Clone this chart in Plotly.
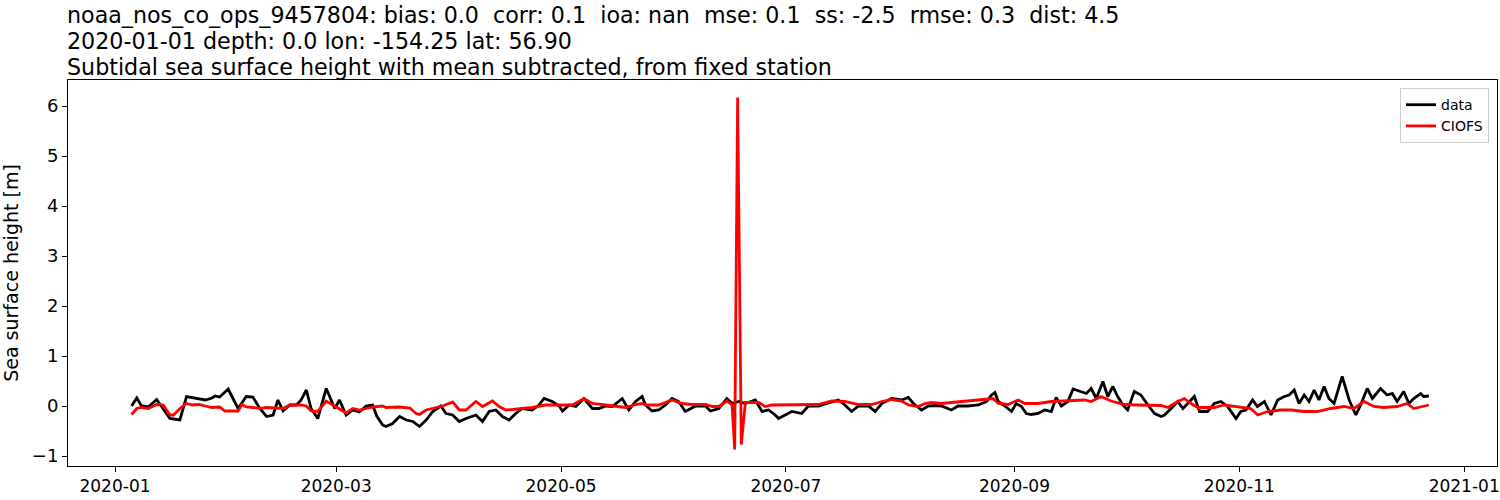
import pandas as pd
import plotly.graph_objects as go

# ---- data (days since 2020-01-01, sea surface height [m]) ----
obs_day = [4.5, 5.9, 7.2, 9.0, 11.3, 13.1, 14.9, 15.9, 17.6, 19.4, 22.1, 24.5, 26.3, 27.2, 28.4,
           30.7, 32.0, 33.4, 35.6, 37.4, 39.3, 41.1, 42.9, 44.2, 45.6, 47.4, 49.2, 50.5, 51.9,
           53.2, 55.0, 57.3, 59.6, 60.9, 62.7, 64.5, 66.3, 68.1, 69.9, 71.0, 72.6,
           73.5, 75.3, 77.2, 79.0, 80.8, 82.6, 84.4, 86.2, 88.4, 89.8, 91.6, 93.4, 95.2, 97.9,
           99.7, 101.5, 103.3, 105.1, 106.9, 108.7, 110.5, 113.2, 115.0, 116.4, 118.6, 120.5,
           121.4, 123.2, 125.0, 127.2, 129.5, 131.3, 133.1, 134.9, 137.6, 139.4, 141.2, 143.0,
           143.9, 145.7, 147.5, 149.3, 151.1, 152.9, 154.7, 157.5, 160.2, 161.5, 163.8, 166.0,
           167.4, 169.2, 171.0, 173.7, 175.5, 177.3, 179.1, 180.0, 181.8, 183.6, 186.3, 188.1,
           190.8, 194.4, 196.2, 198.0, 199.8, 201.7, 204.4, 206.2, 208.0, 210.7, 213.4,
           215.2, 216.6, 218.8, 220.6, 222.4, 224.2, 226.9, 228.7, 231.4, 234.2, 236.4, 237.8,
           238.7, 239.6, 241.4, 243.2, 244.5, 245.9, 247.2, 248.6, 250.4, 252.2, 254.0, 255.3,
           256.7, 258.5, 259.9, 261.7, 263.5, 264.8, 266.2, 268.0, 269.3, 270.7, 272.0, 273.4,
           274.7, 276.5, 278.3, 280.2, 282.0, 283.8,
           284.7, 286.5, 288.3, 289.7, 291.5, 292.8, 294.2, 296.4, 298.2, 300.0, 301.8, 304.1,
           305.4, 306.8, 308.6, 309.9, 311.8, 313.6, 315.4, 317.2, 318.5, 319.9, 321.2, 322.6,
           323.9, 325.3, 326.6, 328.0, 329.3, 330.7, 332.9, 334.8, 336.6, 337.9, 339.7, 341.1,
           343.3, 345.1, 346.5, 347.8, 349.6, 351.0, 352.3, 354.2, 355.0, 356.4]
obs_ssh = [0.0, 0.16, 0.0, -0.02, 0.13, -0.05, -0.25, -0.26, -0.28, 0.19, 0.15, 0.12, 0.16, 0.2, 0.18,
           0.34, 0.15, -0.05, 0.19, 0.18, -0.05, -0.21, -0.18, 0.12, -0.1, 0.02, 0.02, 0.12, 0.32,
           -0.05, -0.25, 0.35, -0.05, 0.12, -0.18, -0.08, -0.12, 0.0, 0.02, -0.2, -0.38,
           -0.41, -0.35, -0.21, -0.28, -0.31, -0.41, -0.28, -0.11, 0.0, -0.15, -0.18, -0.31, -0.25, -0.18,
           -0.31, -0.11, -0.08, -0.21, -0.28, -0.15, -0.05, -0.08, 0.02, 0.15, 0.09, 0.0,
           -0.1, 0.02, -0.01, 0.15, -0.05, -0.05, 0.0, -0.01, 0.15, -0.08, 0.09, 0.19,
           0.02, -0.1, -0.08, 0.02, 0.15, 0.09, -0.11, 0.0, 0.0, -0.1, -0.05, 0.15,
           0.05, 0.09, 0.05, 0.12, -0.11, -0.08, -0.18, -0.25, -0.18, -0.11, -0.15, 0.0,
           0.0, 0.09, 0.12, 0.02, -0.11, 0.0, 0.0, -0.11, 0.05, 0.15, 0.12,
           0.17, 0.05, -0.08, 0.0, 0.01, 0.0, -0.08, 0.0, 0.0, 0.02, 0.09, 0.22,
           0.27, 0.09, 0.0, -0.11, 0.05, -0.01, -0.15, -0.17, -0.15, -0.08, -0.11, 0.17,
           0.0, 0.09, 0.34, 0.3, 0.25, 0.35, 0.15, 0.49, 0.19, 0.39, 0.19, 0.02,
           -0.08, 0.29, 0.22, 0.02, -0.15, -0.21,
           -0.18, -0.05, 0.09, -0.05, 0.09, 0.19, -0.11, -0.11, 0.05, 0.09, -0.01, -0.25,
           -0.11, -0.08, 0.12, -0.01, 0.09, -0.18, 0.12, 0.19, 0.22, 0.32, 0.05, 0.22,
           0.09, 0.32, 0.12, 0.39, 0.15, 0.05, 0.59, 0.12, -0.18, 0.02, 0.35, 0.15,
           0.35, 0.22, 0.25, 0.09, 0.29, 0.05, 0.15, 0.25, 0.19, 0.2]

mod_day = [4.5, 5.9, 7.2, 9.0, 11.3, 13.1, 14.9, 15.9, 17.6, 19.4, 21.0, 22.8, 24.5, 26.3, 28.4,
           29.8, 32.0, 33.4, 34.4, 35.6, 37.4, 39.3, 41.1, 42.9, 45.6, 47.4, 49.2, 50.5, 51.9,
           53.2, 55.0, 57.3, 59.6, 62.7, 64.5, 66.3, 68.1, 70.0, 72.6,
           73.5, 77.0, 80.0, 81.7, 82.6, 84.4, 88.9, 91.6, 93.4, 95.2, 97.9, 99.7, 102.4, 104.2,
           106.0, 107.8, 110.5, 113.2, 116.8, 120.5, 124.1, 127.2, 129.5, 133.1, 135.8, 138.5,
           141.2, 143.0,
           143.9, 147.5, 151.1, 153.8, 156.6, 160.2, 162.0, 163.8, 166.0, 167.4,
           168.1, 168.9, 169.9,
           171.0, 174.6, 176.4, 178.2, 182.7, 187.2, 190.8, 194.4, 198.0, 201.7, 205.3, 208.0,
           210.7, 213.4,
           215.2, 217.9, 219.7, 221.5, 224.2, 226.9, 230.5, 234.2, 236.9, 238.2, 239.6, 242.3,
           245.0, 246.8, 250.4, 254.0, 257.6, 259.4, 263.0, 264.8, 267.5, 270.2, 273.8, 277.4,
           281.1, 283.8,
           285.6, 288.3, 290.1, 291.9, 293.7, 298.2, 300.9, 304.5, 308.1, 310.0, 312.7, 316.3,
           319.0, 322.6, 326.2, 329.8, 333.4, 336.1, 338.8, 341.5, 344.2, 347.8, 350.5, 352.3,
           355.0, 356.4]
mod_ssh = [-0.17, -0.05, -0.03, -0.05, 0.03, 0.02, -0.18, -0.18, -0.05, 0.05, 0.02, 0.03, 0.0, -0.03, -0.02,
           -0.1, -0.1, -0.1, 0.03, -0.02, -0.03, -0.05, -0.03, -0.04, -0.05, 0.02, 0.02, 0.02, 0.0,
           -0.1, -0.11, 0.1, 0.0, -0.14, -0.05, -0.08, -0.05, -0.02, 0.0,
           -0.03, -0.02, -0.04, -0.15, -0.17, -0.08, 0.0, 0.08, -0.08, -0.08, 0.09, -0.01, 0.1, -0.01,
           -0.08, -0.07, -0.05, -0.03, 0.02, 0.02, 0.02, 0.15, 0.05, 0.02, -0.01, -0.03,
           0.03, 0.05,
           0.02, 0.02, 0.12, 0.05, 0.03, 0.03, -0.01, -0.01, 0.1, 0.02,
           -0.87, 6.17, -0.77,
           0.07, 0.07, -0.01, 0.02, 0.02, 0.02, 0.03, 0.1, 0.09, 0.03, 0.03, 0.09,
           0.13, 0.1,
           0.02, -0.01, 0.05, 0.07, 0.05, 0.07, 0.09, 0.12, 0.14, 0.15, 0.05, 0.03,
           0.12, 0.05, 0.05, 0.09, 0.1, 0.12, 0.12, 0.09, 0.19, 0.1, 0.03, 0.02,
           0.02, 0.01,
           -0.03, 0.09, 0.15, 0.05, -0.03, -0.03, 0.02, -0.01, -0.05, -0.18, -0.11, -0.08,
           -0.08, -0.11, -0.11, -0.05, -0.01, -0.05, 0.09, -0.01, -0.03, -0.01, 0.05, -0.05,
           -0.01, 0.02]

x_tick_labels = ["2020-01", "2020-03", "2020-05", "2020-07", "2020-09", "2020-11", "2021-01"]
y_ticks = [-1, 0, 1, 2, 3, 4, 5, 6]

title_lines = [
    "noaa_nos_co_ops_9457804: bias: 0.0  corr: 0.1  ioa: nan  mse: 0.1  ss: -2.5  rmse: 0.3  dist: 4.5",
    "2020-01-01 depth: 0.0 lon: -154.25 lat: 56.90",
    "Subtidal sea surface height with mean subtracted, from fixed station",
]

base = pd.Timestamp("2020-01-01")
obs_t = base + pd.to_timedelta(obs_day, unit="D")
mod_t = base + pd.to_timedelta(mod_day, unit="D")

FONT = "DejaVu Sans"

fig = go.Figure()
fig.add_trace(go.Scatter(x=obs_t, y=obs_ssh, mode="lines", name="data",
                         line=dict(color="black", width=2.8)))
fig.add_trace(go.Scatter(x=mod_t, y=mod_ssh, mode="lines", name="CIOFS",
                         line=dict(color="red", width=2.8)))

W, H = 1500, 500
L, R, T, B = 68, 3, 80, 34
ph = H - T - B

def ypaper(pix):
    return (H - B - pix) / ph

for i, txt in enumerate(title_lines):
    base_pix = [30, 56, 82][i]
    fig.add_annotation(text=txt, xref="paper", yref="paper", x=0, y=ypaper(base_pix),
                       xanchor="left", yanchor="bottom", showarrow=False,
                       xshift=-3, font=dict(family=FONT, size=22.2, color="black"))

fig.update_layout(
    width=W, height=H,
    margin=dict(l=L, r=R, t=T, b=B, autoexpand=False),
    paper_bgcolor="white", plot_bgcolor="white",
    font=dict(family=FONT, size=18, color="black"),
    showlegend=True,
    legend=dict(x=0.9944, y=0.979, xanchor="right", yanchor="top",
                bordercolor="#cccccc", borderwidth=1, bgcolor="rgba(255,255,255,0.8)",
                font=dict(family=FONT, size=14, color="black")),
)
fig.update_xaxes(
    type="date",
    range=[base + pd.Timedelta(days=-12.75), base + pd.Timedelta(days=374.9)],
    tickvals=[pd.Timestamp(s + "-01") for s in x_tick_labels],
    ticktext=x_tick_labels,
    ticklabeloverflow="allow",
    showline=True, linecolor="black", linewidth=1, mirror=True,
    ticks="outside", ticklen=5, tickwidth=1, tickcolor="black",
    showgrid=False, zeroline=False, tickfont=dict(size=17),
)
fig.update_yaxes(
    range=[-1.2, 6.52],
    tickvals=y_ticks,
    title=dict(text="Sea surface height [m]", font=dict(size=19), standoff=8),
    showline=True, linecolor="black", linewidth=1, mirror=True,
    ticks="outside", ticklen=5, tickwidth=1, tickcolor="black",
    showgrid=False, zeroline=False, tickfont=dict(size=18),
)

fig.write_html("out.html", config={"displayModeBar": False},
               post_script="document.body.style.margin='0';")
